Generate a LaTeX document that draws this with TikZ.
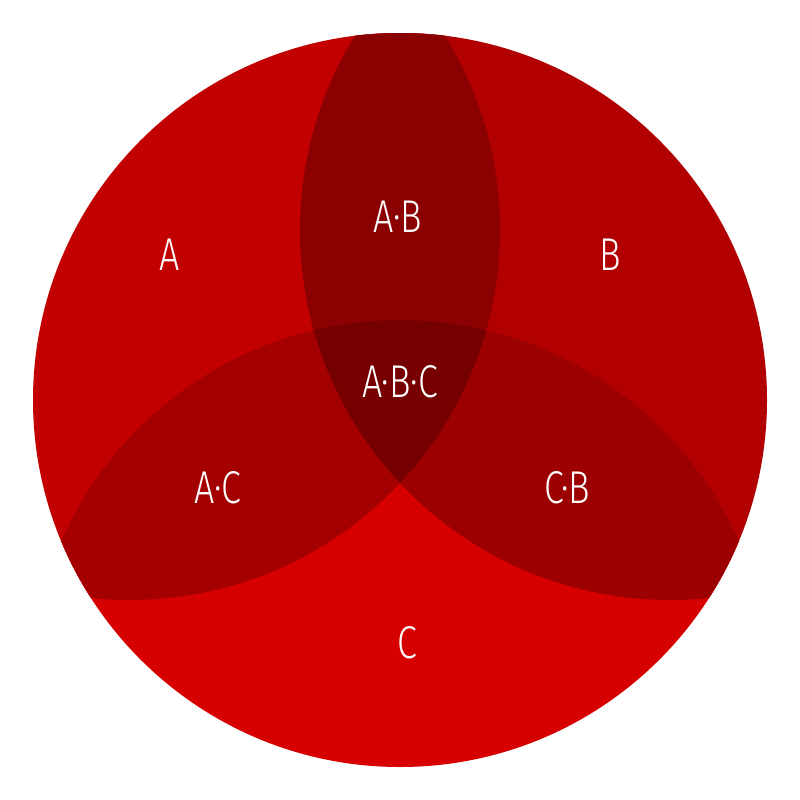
\documentclass[tikz,border=0pt]{standalone}
\usepackage{fontspec}
\setmainfont{Fira Sans Light}
\definecolor{cA}{HTML}{C20000}
\definecolor{cB}{HTML}{B20000}
\definecolor{cC}{HTML}{D70000}
\definecolor{cAB}{HTML}{8B0000}
\definecolor{cAC}{HTML}{A50000}
\definecolor{cCB}{HTML}{9C0000}
\definecolor{cABC}{HTML}{760000}
\begin{document}
\begin{tikzpicture}[x=1pt,y=-1pt,
  lbl/.style={text=white,font=\fontsize{46}{50}\selectfont,xscale=0.78,transform shape,inner sep=0}]
\useasboundingbox (0,0) rectangle (800,800);
\def\cA{(130,230) circle[radius=370]}
\def\cB{(670,230) circle[radius=370]}
\def\cC{(400,690) circle[radius=370]}
\begin{scope}
\clip (400,400) circle[radius=367];
\fill[cA] \cA;
\fill[cB] \cB;
\fill[cC] \cC;
\begin{scope}\clip \cA; \fill[cAB] \cB; \end{scope}
\begin{scope}\clip \cA; \fill[cAC] \cC; \end{scope}
\begin{scope}\clip \cB; \fill[cCB] \cC; \end{scope}
\begin{scope}\clip \cA; \clip \cB; \fill[cABC] \cC; \end{scope}
\end{scope}
\node[lbl] (a) at (170,255) {A};
\node[lbl] (b) at (610,255) {B};
\node[lbl] (ab) at (398,217) {A·B};
\node[lbl] (abc) at (400,382) {A·B·C};
\node[lbl] (ac) at (218,488) {A·C};
\node[lbl] (cb) at (567,488) {C·B};
\node[lbl] (c) at (407,643) {C};
\end{tikzpicture}
\end{document}
